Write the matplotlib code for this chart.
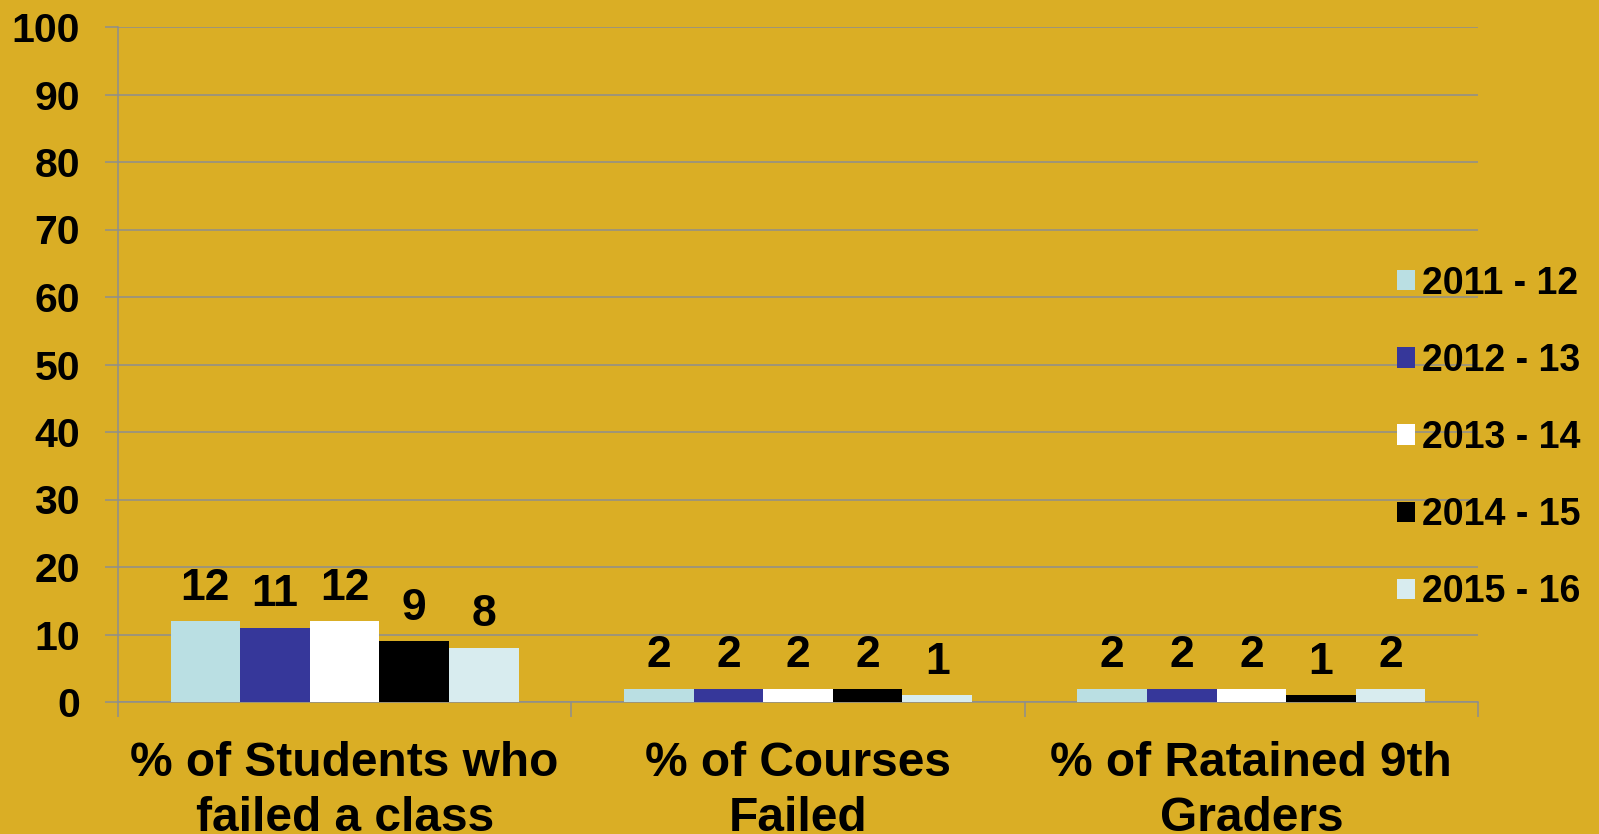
import matplotlib.pyplot as plt
from matplotlib.patches import Patch
import numpy as np

# 类别与数据
categories = ['% of Students who\nfailed a class', '% of Courses\nFailed', '% of Ratained 9th\nGraders']
years = ['2011 - 12', '2012 - 13', '2013 - 14', '2014 - 15', '2015 - 16']
values = [
    [12, 2, 2],
    [11, 2, 2],
    [12, 2, 2],
    [9, 2, 1],
    [8, 1, 2],
]
colors = ['#BADFE3', '#36379A', '#FFFFFF', '#000000', '#D8ECEF']

bg = '#DAAE25'
grid_c = '#8E8E8E'

plt.rcParams['font.family'] = ['Liberation Sans', 'DejaVu Sans']
plt.rcParams['font.weight'] = 'bold'

fig = plt.figure(figsize=(15.99, 8.34), dpi=100, facecolor=bg)
ax = fig.add_axes([118 / 1599, 132 / 834, 1360 / 1599, 675 / 834], facecolor=bg)

x = np.arange(len(categories)) + 0.5
w = 0.1536
for i, (yr, vals) in enumerate(zip(years, values)):
    bars = ax.bar(x + (i - 2) * w, vals, width=w, color=colors[i], linewidth=0, zorder=3)
    ax.bar_label(bars, labels=[str(v) for v in vals], padding=9,
                 fontsize=32, fontweight='bold', color='black')

ax.set_xlim(0, 3)
ax.set_ylim(0, 100)
ax.set_yticks(range(0, 101, 10))
ax.yaxis.grid(True, color=grid_c, linewidth=1.1, zorder=0)
ax.tick_params(axis='y', length=9.5, width=1.1, color=grid_c, pad=18, labelsize=29.5)
for lbl in ax.get_yticklabels():
    lbl.set_fontweight('bold')

ax.set_xticks([0, 1, 2, 3])
ax.set_xticklabels([])
ax.set_xticks(x, minor=True)
ax.set_xticklabels(categories, minor=True, fontsize=34.5, fontweight='bold', linespacing=1.3)
ax.tick_params(axis='x', which='major', length=11, width=1.1, color=grid_c)
ax.tick_params(axis='x', which='minor', length=0, pad=28)

for s in ['top', 'right']:
    ax.spines[s].set_visible(False)
for s in ['left', 'bottom']:
    ax.spines[s].set_color(grid_c)
    ax.spines[s].set_linewidth(1.1)

handles = [Patch(facecolor=c, edgecolor='none') for c in colors]
fig.legend(handles, years, loc='center left', bbox_to_anchor=(1397 / 1599, (834 - 438) / 834),
           frameon=False, prop={'weight': 'bold', 'size': 27},
           handlelength=0.47, handleheight=0.47, handletextpad=0.2,
           labelspacing=1.1, borderpad=0, borderaxespad=0)

fig.savefig('out.png', dpi=100, facecolor=bg)
